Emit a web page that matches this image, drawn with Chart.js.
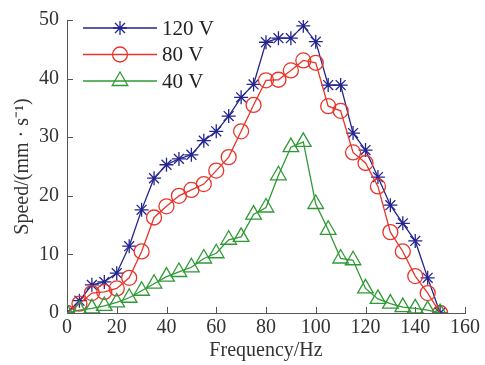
<!DOCTYPE html>
<html>
<head>
<meta charset="utf-8">
<script src="https://cdn.jsdelivr.net/npm/chart.js@4.4.0/dist/chart.umd.min.js"></script>
<style>
  html, body { margin: 0; padding: 0; background: #fff; }
  #wrap { width: 485px; height: 365px; position: relative; }
</style>
</head>
<body>
<div id="wrap"><canvas id="speedChart"></canvas></div>
<script>
// drive frequency (Hz) and measured speed (mm/s) for each voltage
const freq = [0, 5, 10, 15, 20, 25, 30, 35, 40, 45, 50, 55, 60, 65, 70, 75,
              80, 85, 90, 95, 100, 105, 110, 115, 120, 125, 130, 135, 140, 145, 150];
const speed120 = [0, 2.1, 4.8, 5.3, 6.8, 11.4, 17.6, 23, 25.3, 26.3, 27, 29.4, 31, 33.6, 36.8, 39,
                  46.2, 46.9, 46.9, 49, 46.3, 38.9, 38.9, 30.7, 27.8, 23.2, 18.4, 15.3, 12.3, 6, 0];
const speed80 = [0, 1.6, 3.4, 3.6, 4.2, 6, 10.5, 16.3, 18.2, 20, 21, 22, 24.3, 26.6, 31, 35.5,
                 39.7, 39.8, 41.4, 43.1, 42.7, 35.3, 34.5, 27.4, 25.6, 21.6, 13.8, 10.5, 6.3, 3.4, 0];
const speed40 = [0, 0.5, 0.8, 1.2, 1.8, 2.6, 3.8, 5, 6.2, 7, 7.8, 9.3, 10.2, 12.5, 13, 16.8,
                 18, 23.5, 28.3, 29.2, 18.6, 14.2, 9.3, 9, 4.2, 2.4, 1.6, 1, 0.8, 0.5, 0];
const seriesNames = ['120 V', '80 V', '40 V'];
const xTickStep = 20;
const yTickStep = 10;

const BLUE = '#25258f';
const RED = '#e8352b';
const GREEN = '#2f9a35';
const AXIS = '#555555';
const SERIF = "'Liberation Serif', 'Times New Roman', serif";

const toPoints = ys => ys.map((y, i) => ({x: freq[i], y: y}));

const datasets = [
  {label: seriesNames[0], data: toPoints(speed120), borderColor: BLUE, backgroundColor: BLUE,
   pointStyle: 'star', pointRadius: 7, order: 3},
  {label: seriesNames[1], data: toPoints(speed80), borderColor: RED, backgroundColor: 'rgba(0,0,0,0)',
   pointStyle: 'circle', pointRadius: 7.5, order: 2},
  {label: seriesNames[2], data: toPoints(speed40), borderColor: GREEN, backgroundColor: 'rgba(0,0,0,0)',
   pointStyle: 'triangle', pointRadius: 9, order: 1}
].map(d => Object.assign(d, {
  borderWidth: 1.3, pointBorderWidth: 1.3, pointBorderColor: d.borderColor,
  pointBackgroundColor: d.backgroundColor, tension: 0, fill: false
}));

// short tick marks pointing into the plot
const inwardTicks = {
  id: 'inwardTicks',
  beforeDatasetsDraw(chart) {
    const {ctx, chartArea, scales} = chart;
    ctx.save();
    ctx.strokeStyle = AXIS;
    ctx.lineWidth = 1;
    ctx.beginPath();
    scales.x.ticks.forEach(t => {
      const px = Math.round(scales.x.getPixelForValue(t.value)) + 0.5;
      ctx.moveTo(px, chartArea.bottom);
      ctx.lineTo(px, chartArea.bottom - 6);
    });
    scales.y.ticks.forEach(t => {
      const py = Math.round(scales.y.getPixelForValue(t.value)) + 0.5;
      ctx.moveTo(chartArea.left, py);
      ctx.lineTo(chartArea.left + 6, py);
    });
    ctx.stroke();
    ctx.restore();
  }
};

// legend in the upper left corner of the plot
const cornerLegend = {
  id: 'cornerLegend',
  afterDraw(chart) {
    const {ctx, chartArea} = chart;
    const x0 = chartArea.left + 16;
    const x1 = chartArea.left + 90;
    ctx.save();
    chart.data.datasets.forEach((ds, i) => {
      const y = chartArea.top + 8 + i * 26.5;
      ctx.strokeStyle = ds.borderColor;
      ctx.lineWidth = ds.borderWidth;
      ctx.beginPath();
      ctx.moveTo(x0, y);
      ctx.lineTo(x1, y);
      ctx.stroke();
      ctx.fillStyle = ds.pointBackgroundColor;
      Chart.helpers.drawPoint(ctx, {pointStyle: ds.pointStyle, radius: ds.pointRadius,
        rotation: 0, borderWidth: ds.pointBorderWidth}, (x0 + x1) / 2, y);
      ctx.fillStyle = '#222';
      ctx.font = '21px ' + SERIF;
      ctx.textBaseline = 'middle';
      ctx.fillText(ds.label, x1 + 5, y + 1);
    });
    ctx.restore();
  }
};

new Chart(document.getElementById('speedChart'), {
  type: 'line',
  data: {datasets: datasets},
  plugins: [inwardTicks, cornerLegend],
  options: {
    responsive: true,
    maintainAspectRatio: false,
    animation: false,
    layout: {padding: {top: 17, right: 20, left: 0, bottom: 0}},
    plugins: {legend: {display: false}, tooltip: {enabled: false}},
    scales: {
      x: {
        type: 'linear', min: 0, max: 160,
        grid: {display: false, drawTicks: false},
        border: {display: true, color: AXIS, width: 1},
        ticks: {stepSize: xTickStep, padding: 3, color: '#333', font: {family: SERIF, size: 20}},
        title: {display: true, text: 'Frequency/Hz', color: '#333',
                font: {family: SERIF, size: 20}, padding: {top: 0, bottom: 2}},
        afterFit(scale) { scale.height = 52; }
      },
      y: {
        min: 0, max: 50,
        grid: {display: false, drawTicks: false},
        border: {display: true, color: AXIS, width: 1},
        ticks: {stepSize: yTickStep, padding: 8, color: '#333', font: {family: SERIF, size: 20}},
        title: {display: true, text: 'Speed/(mm · s⁻¹)', color: '#333',
                font: {family: SERIF, size: 20}, padding: {top: 11, bottom: 11}},
        afterFit(scale) { scale.width = 67; }
      }
    }
  }
});
</script>
</body>
</html>
